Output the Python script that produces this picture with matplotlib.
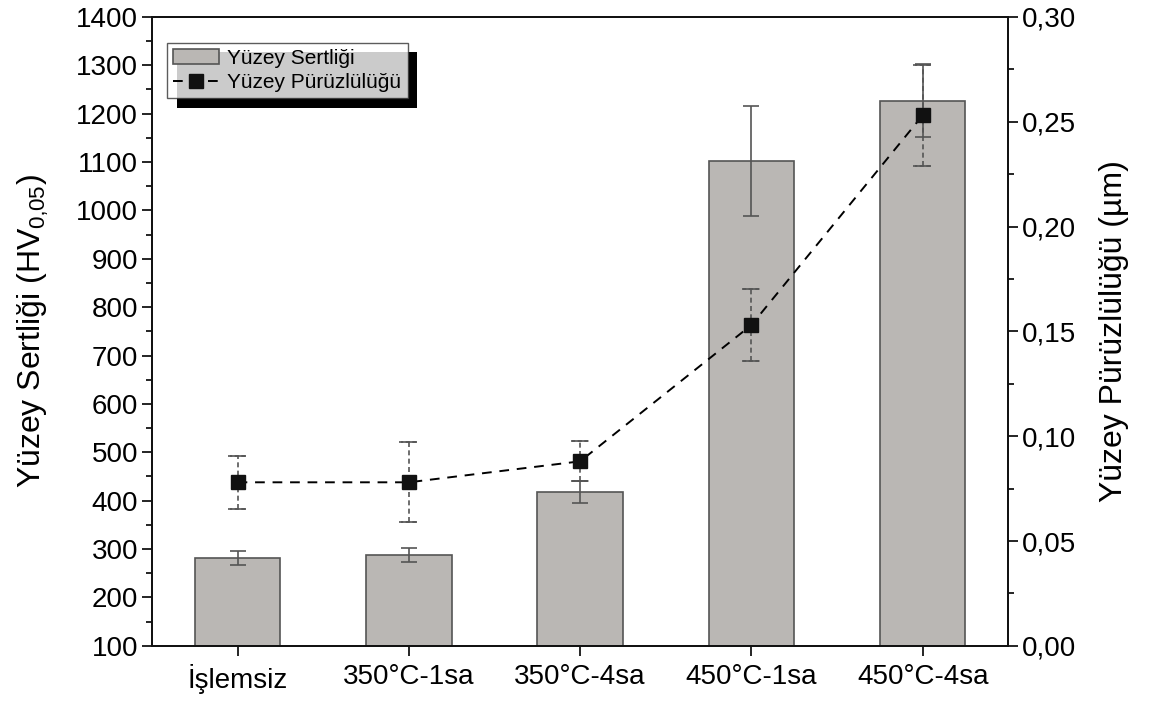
import numpy as np
import matplotlib
matplotlib.use("Agg")
import matplotlib.pyplot as plt
from matplotlib.ticker import MultipleLocator, FuncFormatter
from matplotlib import patheffects

plt.rcParams['font.family'] = ['Liberation Sans', 'DejaVu Sans']
plt.rcParams['mathtext.fontset'] = 'custom'
plt.rcParams['mathtext.rm'] = 'Liberation Sans'
plt.rcParams['mathtext.it'] = 'Liberation Sans'

categories = ['İşlemsiz', '350°C-1sa', '350°C-4sa', '450°C-1sa', '450°C-4sa']
hardness = [282, 288, 418, 1102, 1227]
hardness_err = [14, 15, 22, 113, 75]
roughness = [0.078, 0.078, 0.088, 0.153, 0.253]
roughness_err = [0.0125, 0.019, 0.0095, 0.017, 0.024]

BAR_COLOR = '#bab7b4'
BAR_EDGE = '#555555'

fig = plt.figure(figsize=(11.51, 7.02), dpi=100)
ax = fig.add_axes([0.132, 0.080, 0.744, 0.896])
ax2 = ax.twinx()

x = np.arange(len(categories))
bars = ax.bar(x, hardness, width=0.5, bottom=0, color=BAR_COLOR, edgecolor=BAR_EDGE,
              linewidth=1.2, label='Yüzey Sertliği', zorder=2)
ax.errorbar(x, hardness, yerr=hardness_err, fmt='none', ecolor='#555555',
            elinewidth=1.2, capsize=6, capthick=1.2, zorder=3)

eb = ax2.errorbar(x, roughness, yerr=roughness_err, fmt='none', ecolor='#555555',
                  elinewidth=1.2, capsize=6, capthick=1.2, zorder=3)
for lc in eb[2]:
    lc.set_linestyle((0, (3, 2)))
for cap in eb[1]:
    cap.set_linestyle('none')
line, = ax2.plot(x, roughness, linestyle=(0, (5, 4)), color='black', linewidth=1.4,
                 marker='s', markersize=10, markerfacecolor='#111111',
                 markeredgecolor='#111111', label='Yüzey Pürüzlülüğü', zorder=4)
# dashed caps for roughness error
for xi, yi, ei in zip(x, roughness, roughness_err):
    for yy in (yi - ei, yi + ei):
        ax2.plot([xi - 0.055, xi + 0.055], [yy, yy], color='#555555', lw=1.2,
                 linestyle=(0, (2.5, 1.5)), zorder=3)

ax.set_xlim(-0.5, 4.5)
ax.set_ylim(100, 1400)
ax2.set_ylim(0, 0.30)

ax.set_xticks(x)
ax.set_xticklabels(categories, fontsize=20)
ax.yaxis.set_major_locator(MultipleLocator(100))
ax.yaxis.set_minor_locator(MultipleLocator(50))
ax2.yaxis.set_major_locator(MultipleLocator(0.05))
ax2.yaxis.set_minor_locator(MultipleLocator(0.025))
ax2.yaxis.set_major_formatter(FuncFormatter(lambda v, p: f"{v:.2f}".replace('.', ',')))

ax.tick_params(axis='y', which='major', direction='out', length=7, width=1.2, labelsize=20, pad=3)
ax.tick_params(axis='y', which='minor', direction='out', length=4, width=1.2)
ax.tick_params(axis='x', which='major', direction='out', length=7, width=1.2, labelsize=20, pad=6)
ax2.tick_params(axis='y', which='major', direction='out', length=7, width=1.2, labelsize=20, pad=3)
ax2.tick_params(axis='y', which='minor', direction='out', length=4, width=1.2)

for a in (ax, ax2):
    for s in a.spines.values():
        s.set_linewidth(1.3)
        s.set_color('#111111')

ax.set_ylabel('Yüzey Sertliği (HV$_{0\u201a05}$)', fontsize=23, labelpad=18)
ax2.set_ylabel('Yüzey Pürüzlülüğü (µm)', fontsize=23, labelpad=16)

leg = ax2.legend([bars, line], ['Yüzey Sertliği', 'Yüzey Pürüzlülüğü'],
                 loc='upper left', bbox_to_anchor=(0.0175, 0.959), fontsize=15,
                 frameon=True, fancybox=False, edgecolor='#333333',
                 handlelength=2.2, handletextpad=0.4, borderpad=0.3,
                 labelspacing=0.25, borderaxespad=0)
leg.get_frame().set_linewidth(1.0)
leg.get_frame().set_path_effects([
    patheffects.SimplePatchShadow(offset=(7, -7), shadow_rgbFace='black', alpha=1),
    patheffects.Normal()])
leg.set_zorder(10)

fig.savefig('out.png', dpi=100)
